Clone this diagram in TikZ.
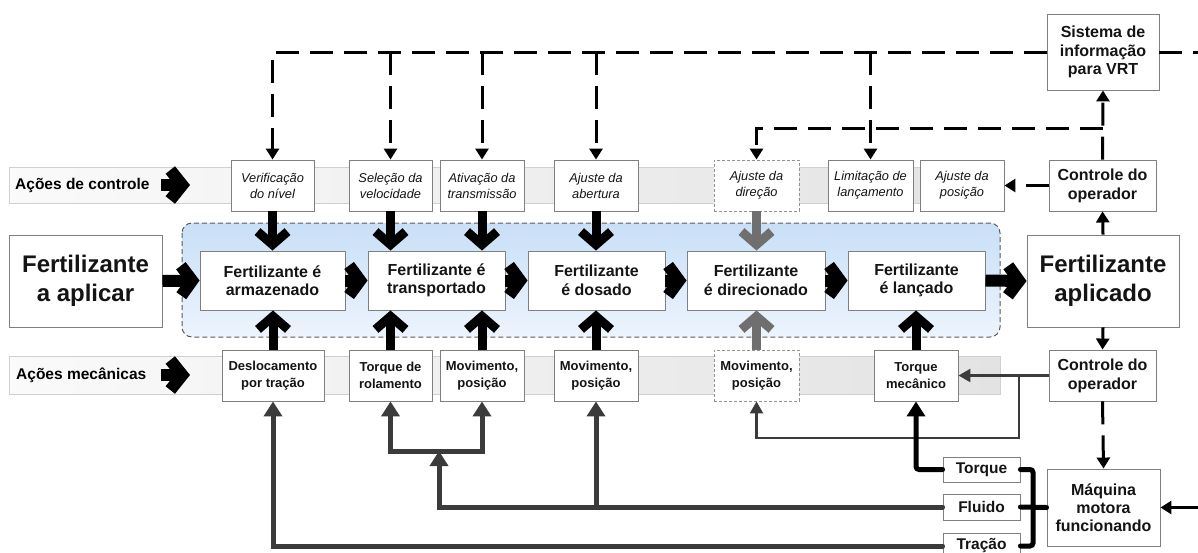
\documentclass[tikz,border=0pt]{standalone}
\usepackage{fontspec}
\setmainfont{Liberation Sans}
\usetikzlibrary{arrows.meta,calc}
\definecolor{frame}{HTML}{808080}
\definecolor{busgray}{HTML}{3B3B3B}
\definecolor{softgray}{HTML}{6F6F6F}
\definecolor{bandL}{HTML}{FAFAFA}
\definecolor{bandR}{HTML}{E3E3E3}
\definecolor{bandline}{HTML}{D0D0D0}
\definecolor{zoneTop}{HTML}{C8DFF7}
\definecolor{zoneBot}{HTML}{EDF4FD}
\newcommand\setfs[2]{\fontsize{#1}{#2}\selectfont}
\begin{document}
\begin{tikzpicture}[x=1pt,y=-1pt,
  box/.style={draw=frame, line width=0.9, fill=white, align=center, inner sep=0, text=black!92},
  procbox/.style={box, minimum height=59, font=\setfs{16}{18.5}\bfseries},
  bigbox/.style={box, minimum width=153, minimum height=92, font=\setfs{24}{29}\bfseries},
  ctrlbox/.style={box, minimum height=51, font=\setfs{12.8}{16}\itshape},
  mechbox/.style={box, minimum height=51, font=\setfs{13}{16.5}\bfseries},
  opbox/.style={box, minimum width=107, minimum height=51, font=\setfs{16}{19}\bfseries},
  tagbox/.style={box, minimum width=77, minimum height=26, font=\setfs{15.5}{18}\bfseries},
  ghost/.style={draw=frame!85, dash pattern=on 3 off 2},
  band/.style={draw=bandline, line width=0.8, left color=bandL, right color=bandR},
  bandlabel/.style={anchor=west, inner sep=0, font=\setfs{15.5}{18}\bfseries},
  fat/.style={line width=9, -{Straight Barb[length=13,width=30]}},
  fatH/.style={line width=12, -{Straight Barb[length=11,width=30]}},
  fatgray/.style={fat, draw=softgray},
  dsh/.style={line width=3, dash pattern=on 23 off 11},
  dtip/.style={-{Triangle[length=11,width=13]}},
  solidarrow/.style={line width=3, -{Triangle[length=11,width=13]}},
  gbus/.style={draw=busgray, line width=5, line cap=round},
  gtip/.style={-{Triangle[length=15,width=18]}},
  gthin/.style={draw=busgray, line width=2.5, -{Triangle[length=12,width=13]}},
  kbus/.style={draw=black, line width=5, line cap=round, rounded corners=3},
]
\useasboundingbox (0,0) rectangle (1198,552);
\fill[white] (0,0) rectangle (1198,552);

% action bands
\path[band] (9,167) rectangle (1000,203);
\path[band] (9,356) rectangle (1000,394);
\node[bandlabel] (lblc) at (15,185) {Ações de controle};
\node[bandlabel] (lblm) at (16,375) {Ações mecânicas};
\coordinate (ca0) at (161,185);
\coordinate (ca1) at (190,185);
\coordinate (ma0) at (161,375);
\coordinate (ma1) at (190,375);
\draw[line width=12, -{Straight Barb[length=12,width=30]}] (ca0) -- (ca1);
\draw[line width=12, -{Straight Barb[length=12,width=30]}] (ma0) -- (ma1);

% process zone
\draw[draw=black!65, line width=1, dash pattern=on 5 off 3, rounded corners=10,
      top color=zoneTop, bottom color=zoneBot] (182,223) rectangle (1000,337);

% main flow
\node[bigbox] (src) at (85.5,281) {Fertilizante\\a aplicar};
\node[procbox, minimum width=145] (p1) at (272.5,280.5) {Fertilizante é\\armazenado};
\node[procbox, minimum width=137] (p2) at (436.5,280.5) {Fertilizante é\\transportado};
\node[procbox, minimum width=137] (p3) at (596.5,280.5) {Fertilizante\\é dosado};
\node[procbox, minimum width=138] (p4) at (756,280.5) {Fertilizante\\é direcionado};
\node[procbox, minimum width=137] (p5) at (916.5,280.5) {Fertilizante\\é lançado};
\node[bigbox, minimum width=152] (dst) at (1103,281) {Fertilizante\\aplicado};

% control actions
\node[ctrlbox, minimum width=83] (c1) at (272.5,185.5) {Verificação\\do nível};
\node[ctrlbox, minimum width=83] (c2) at (390.5,185.5) {Seleção da\\velocidade};
\node[ctrlbox, minimum width=84] (c3) at (482,185.5) {Ativação da\\transmissão};
\node[ctrlbox, minimum width=84] (c4) at (596,185.5) {Ajuste da\\abertura};
\node[ctrlbox, ghost, minimum width=85] (c5) at (756.5,185.5) {Ajuste da\\direção};
\node[ctrlbox, minimum width=85] (c6) at (870.5,185.5) {Limitação de\\lançamento};
\node[ctrlbox, minimum width=84] (c7) at (962,185.5) {Ajuste da\\posição};

% mechanical actions
\node[mechbox, minimum width=102] (m1) at (273,375.5) {Deslocamento\\por tração};
\node[mechbox, minimum width=83] (m2) at (390.5,375.5) {Torque de\\rolamento};
\node[mechbox, minimum width=84] (m3) at (482,375.5) {Movimento,\\posição};
\node[mechbox, minimum width=84] (m4) at (596,375.5) {Movimento,\\posição};
\node[mechbox, ghost, minimum width=85] (m5) at (756.5,375.5) {Movimento,\\posição};
\node[mechbox, minimum width=84] (m6) at (916,375.5) {Torque\\mecânico};

% operator, information system and power unit
\node[opbox] (op1) at (1102.5,185.5) {Controle do\\operador};
\node[opbox] (op2) at (1102.5,375.5) {Controle do\\operador};
\node[box, minimum width=112, minimum height=76, font=\setfs{16}{18.5}\bfseries] (sis) at (1103,52) {Sistema de\\informação\\para VRT};
\node[box, minimum width=113, minimum height=77, font=\setfs{16}{18.3}\bfseries] (mq) at (1103.5,507.5) {Máquina\\motora\\funcionando};
\node[tagbox, minimum height=25] (tq) at (981.5,469.5) {Torque};
\node[tagbox] (fl) at (981.5,507) {Fluido};
\node[tagbox] (tr) at (981.5,546) {Tração};

% horizontal flow arrows
\draw[fatH] (src.east) -- (p1.west);
\draw[fatH] (p1.east) -- (p2.west);
\draw[fatH] (p2.east) -- (p3.west);
\draw[fatH] (p3.east) -- (p4.west);
\draw[fatH] (p4.east) -- (p5.west);
\draw[fatH] (p5.east) -- (dst.west);

% control actions acting on the process
\draw[fat] (c1.south) -- (c1.south |- p1.north);
\draw[fat] (c2.south) -- (c2.south |- p2.north);
\draw[fat] (c3.south) -- (c3.south |- p2.north);
\draw[fat] (c4.south) -- (c4.south |- p3.north);
\draw[fatgray] (c5.south) -- (c5.south |- p4.north);

% mechanical actions acting on the process
\draw[fat] (m1.north) -- (m1.north |- p1.south);
\draw[fat] (m2.north) -- (m2.north |- p2.south);
\draw[fat] (m3.north) -- (m3.north |- p2.south);
\draw[fat] (m4.north) -- (m4.north |- p3.south);
\draw[fatgray] (m5.north) -- (m5.north |- p4.south);
\draw[fat] (m6.north) -- (m6.north |- p5.south);

% information system signals
\coordinate (vrtin) at (1205,52);
\coordinate (midrow) at (0,128);
\draw[dsh] (sis.east) -- (vrtin);
\draw[dsh, dtip] (sis.west) -| (c1.north);
\foreach \c in {c2,c3,c4,c6} \draw[dsh, dtip] (\c.north |- sis.west) -- (\c.north);
\draw[dsh, dtip] (op1.north) -- (sis.south);
\draw[dsh, dtip] (op1.north |- midrow) -| (c5.north);
\draw[dsh, dtip] (op1.west) -- (c7.east);

% operator loop
\draw[solidarrow] (dst.north) -- (op1.south);
\draw[solidarrow] (dst.south) -- (op2.north);
\draw[dsh, dtip] (op2.south) -- (mq.north);
\coordinate (fuelin) at (1198,507.5);
\draw[solidarrow] (fuelin) -- (mq.east);
\coordinate (brk) at (1019,375.5);
\coordinate (lowrow) at (0,438);
\draw[gthin] (op2.west) -- (m6.east);
\draw[gthin] (brk) -- (brk |- lowrow) -| (m5.south);

% power take-offs
\coordinate (busx) at (1033,0);
\draw[kbus, -{Triangle[length=15,width=18]}] (tq.west) -| (m6.south);
\draw[kbus] (tq.east) -| (busx |- fl.east) |- (tr.east);
\draw[kbus] (fl.east) -- (mq.west);
\coordinate (barjoin) at (439,451);
\draw[gbus, gtip] (fl.west) -| (barjoin);
\draw[gbus, {Triangle[length=15,width=18]}-{Triangle[length=15,width=18]}] (m2.south) |- (barjoin) -| (m3.south);
\draw[gbus, gtip] (fl.west -| m4.south) -- (m4.south);
\draw[gbus, gtip] (tr.west) -| (m1.south);
\end{tikzpicture}
\end{document}
